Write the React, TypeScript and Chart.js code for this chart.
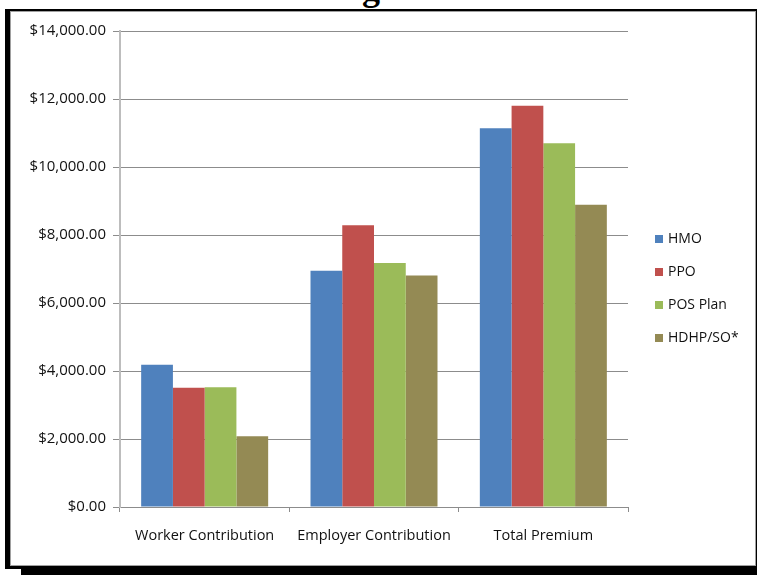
import React, { useEffect, useRef } from "react";
import { Chart, registerables } from "chart.js";

Chart.register(...registerables);

const categories = ["Worker Contribution", "Employer Contribution", "Total Premium"];
const seriesNames = ["HMO", "PPO", "POS Plan", "HDHP/SO*"];
const hmo = [4186, 6950, 11140];
const ppo = [3505, 8290, 11800];
const pos = [3520, 7180, 10700];
const hdhp = [2078, 6810, 8890];
const seriesColors = ["#4F81BD", "#C0504D", "#9BBB59", "#948A54"];
const yTicks = [0, 2000, 4000, 6000, 8000, 10000, 12000, 14000];

const FONT = "'Open Sans', sans-serif";

const legendPlugin = {
  id: "sideLegend",
  afterDraw(chart: any) {
    const ctx = chart.ctx;
    ctx.save();
    ctx.font = `14px ${FONT}`;
    ctx.textBaseline = "middle";
    ctx.textAlign = "left";
    chart.data.datasets.forEach((ds: any, i: number) => {
      const y = 227 + i * 33;
      ctx.fillStyle = ds.backgroundColor;
      ctx.fillRect(644, y - 4, 8, 8);
      ctx.fillStyle = "#111";
      ctx.fillText(ds.label, 657, y);
    });
    ctx.restore();
  },
};

export default function App() {
  const ref = useRef<HTMLCanvasElement | null>(null);

  useEffect(() => {
    if (!ref.current) return;
    const data = [hmo, ppo, pos, hdhp];
    const chart = new Chart(ref.current, {
      type: "bar",
      data: {
        labels: categories,
        datasets: seriesNames.map((name, i) => ({
          label: name,
          data: data[i],
          backgroundColor: seriesColors[i],
          borderWidth: 0,
          categoryPercentage: 0.75,
          barPercentage: 1,
        })),
      },
      options: {
        responsive: false,
        animation: false,
        layout: { padding: { top: 19, right: 127, left: 0, bottom: 0 } },
        plugins: { legend: { display: false }, tooltip: { enabled: false }, title: { display: false } },
        scales: {
          x: {
            grid: {
              offset: true,
              drawOnChartArea: false,
              drawTicks: true,
              tickLength: 5,
              color: "#8c8c8c",
            },
            border: { color: "#8c8c8c", width: 1 },
            ticks: { color: "#111", font: { family: FONT, size: 14.5 }, padding: 15, maxRotation: 0 },
            afterFit: (s: any) => {
              s.height = 58;
            },
          },
          y: {
            min: 0,
            max: 14000,
            afterBuildTicks: (s: any) => {
              s.ticks = yTicks.map((v) => ({ value: v }));
            },
            grid: { color: "#8c8c8c", tickLength: 7, drawTicks: true },
            border: { color: "#bdbdbd", width: 2 },
            ticks: {
              color: "#111",
              font: { family: FONT, size: 15 },
              padding: 7,
              callback: (v: any) =>
                "$" + Number(v).toLocaleString("en-US", { minimumFractionDigits: 2, maximumFractionDigits: 2 }),
            },
            afterFit: (s: any) => {
              s.width = 109;
            },
          },
        },
      },
      plugins: [legendPlugin],
    });
    return () => chart.destroy();
  }, []);

  return (
    <div style={{ position: "absolute", left: 0, top: 0, width: 757, height: 575, background: "#fff", overflow: "hidden" }}>
      <div
        style={{
          position: "absolute",
          left: 362,
          top: -30,
          fontFamily: "'Liberation Serif', serif",
          fontWeight: "bold",
          fontSize: 36,
          lineHeight: "36px",
          color: "#000",
        }}
      >
        g
      </div>
      <div style={{ position: "absolute", left: 5, top: 9, width: 752, height: 560, background: "#000" }} />
      <div style={{ position: "absolute", left: 21, top: 566, width: 736, height: 9, background: "#000" }} />
      <div
        style={{
          position: "absolute",
          left: 10,
          top: 11,
          width: 744,
          height: 553,
          background: "#fff",
          border: "1px solid #a0a0a0",
        }}
      >
        <canvas ref={ref} width={744} height={553} style={{ display: "block", width: 744, height: 553 }} />
      </div>
    </div>
  );
}
